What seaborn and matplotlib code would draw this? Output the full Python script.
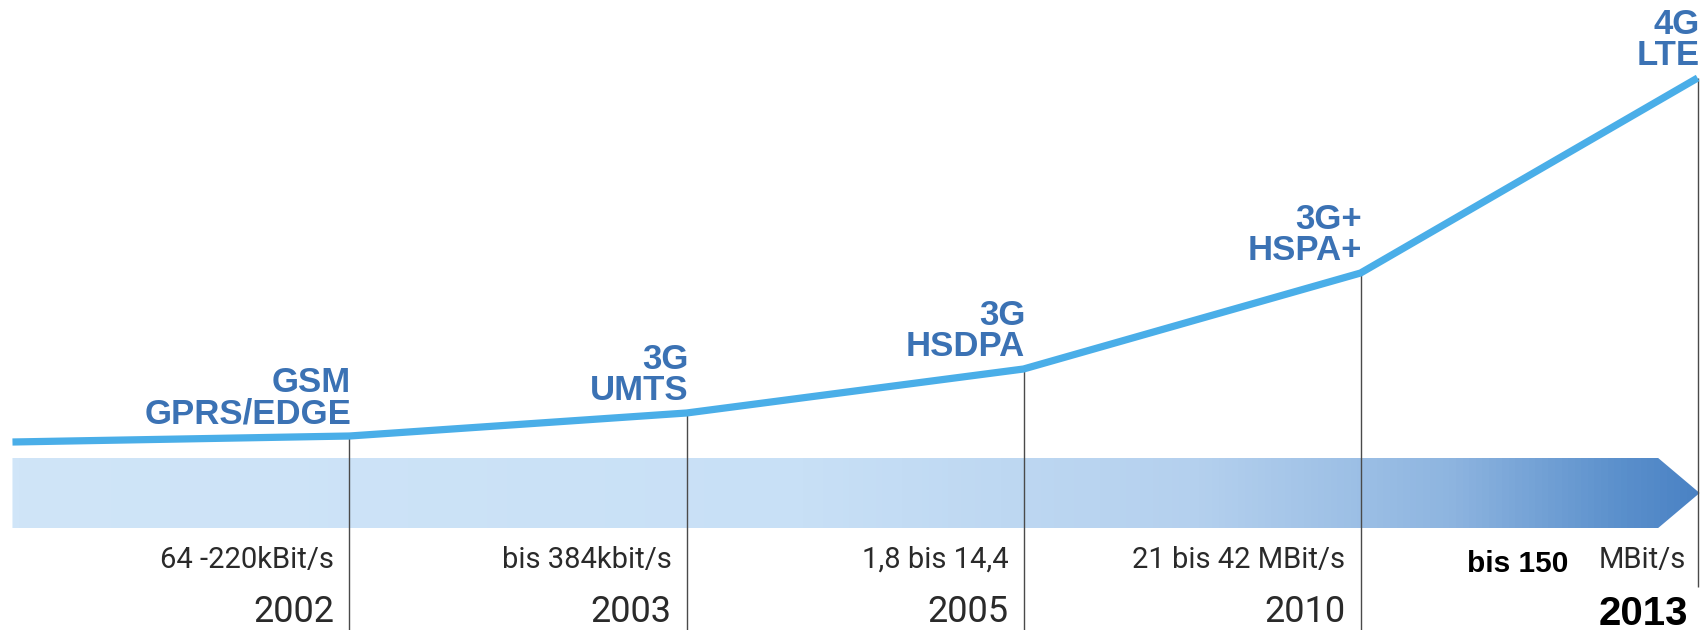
import numpy as np
import matplotlib
matplotlib.use("Agg")
import matplotlib.pyplot as plt
import seaborn as sns
import pandas as pd
from matplotlib.colors import LinearSegmentedColormap
from matplotlib.patches import Polygon

# ---- data ----
years = ["2002", "2003", "2005", "2010", "2013"]
tech_top = ["GSM", "3G", "3G", "3G+", "4G"]
tech_bottom = ["GPRS/EDGE", "UMTS", "HSDPA", "HSPA+", "LTE"]
speed_labels = ["64 -220kBit/s", "bis 384kbit/s", "1,8 bis 14,4", "21 bis 42 MBit/s", "MBit/s"]
speed_bold = "bis 150"
curve_x = [-1, 0, 1, 2, 3, 4]          # start of curve, then one point per year
curve_level = [188, 194, 217, 261, 357, 552]

sns.set_theme(style="white")
plt.rcParams["font.family"] = ["Liberation Sans", "DejaVu Sans"]

fig = plt.figure(figsize=(17.02, 6.30), dpi=100)
ax = fig.add_axes([0, 0, 1, 1])
ax.set_xlim(-1.037, 4.013)
ax.set_ylim(0, 630)
ax.axis("off")

# ---- gradient arrow band ----
band_lo, band_hi = 102, 172
x0, xb, xt = -1.0, 3.883, 4.006
cmap = LinearSegmentedColormap.from_list(
    "band",
    [(0.0, "#d0e5f8"), (0.467, "#c8e0f6"), (0.705, "#b4d0ee"),
     (0.853, "#8eb5e0"), (0.954, "#5b90cc"), (1.0, "#4a82c4")])
grad = np.linspace(0, 1, 512).reshape(1, -1)
im = ax.imshow(grad, extent=[x0, xt, band_lo, band_hi], aspect="auto",
               cmap=cmap, origin="lower", zorder=1)
poly = Polygon([(x0, band_lo), (xb, band_lo), (xt, (band_lo + band_hi) / 2),
                (xb, band_hi), (x0, band_hi)], closed=True,
               facecolor="none", edgecolor="none", transform=ax.transData)
ax.add_patch(poly)
im.set_clip_path(poly)
ax.set_xlim(-1.037, 4.013)
ax.set_ylim(0, 630)

# ---- vertical lines ----
vx = curve_x[1:]
vtop = curve_level[1:]
vbottom = [0, 0, 0, 0, 43]
ax.vlines(vx, vbottom, vtop, colors="#4a4a4a", linewidth=1.0, zorder=2)

# ---- curve ----
df = pd.DataFrame({"x": curve_x, "y": curve_level})
sns.lineplot(data=df, x="x", y="y", ax=ax, color="#4aaee8", linewidth=5.2,
             zorder=3, solid_capstyle="butt")
ax.set_xlabel("")
ax.set_ylabel("")

# ---- technology labels ----
tech_color = "#3b72b4"
for i, (t, b) in enumerate(zip(tech_top, tech_bottom)):
    base = curve_level[i + 1] + 44
    ax.text(i + 0.005, base, t, ha="right", va="baseline", fontsize=25,
            fontweight="bold", color=tech_color, zorder=4)
    ax.text(i + 0.005, base - 31, b, ha="right", va="baseline", fontsize=25,
            fontweight="bold", color=tech_color, zorder=4)

# ---- speed labels ----
plain = dict(family=["Roboto", "DejaVu Sans"], fontweight="normal", color="#2a2a2a")
for i, s in enumerate(speed_labels):
    ax.text(i - 0.045 if i < 4 else i - 0.035, 62, s, ha="right", va="baseline",
            fontsize=21, **plain)
ax.text(3.616, 58, speed_bold, ha="right", va="baseline", fontsize=21.5,
        fontweight="bold", color="black", family=["Liberation Sans", "DejaVu Sans"])

# ---- years ----
for i, y in enumerate(years[:-1]):
    ax.text(i - 0.045, 8, y, ha="right", va="baseline", fontsize=26, **plain)
ax.text(3.972, 5, years[-1], ha="right", va="baseline", fontsize=29,
        fontweight="bold", color="black",
        family=["Liberation Sans Narrow", "Liberation Sans", "DejaVu Sans"])

fig.savefig("out.png", dpi=100, facecolor="white")
